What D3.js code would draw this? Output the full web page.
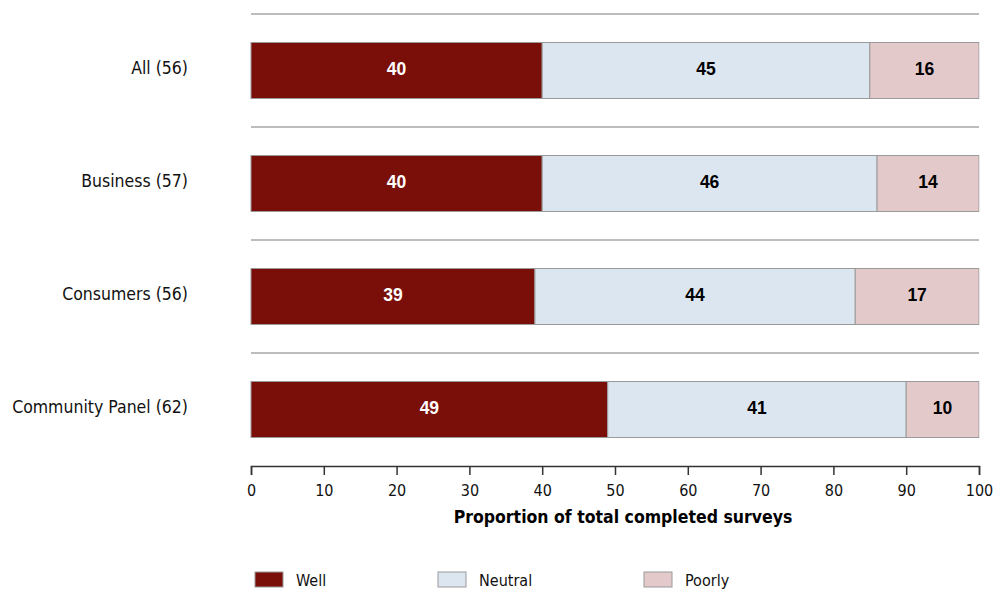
<!DOCTYPE html>
<html>
<head>
<meta charset="utf-8">
<script src="https://cdn.jsdelivr.net/npm/d3@7"></script>
<style>
  body { margin: 0; background: #fff; }
  svg { display: block; }
</style>
</head>
<body>
<svg id="chart" width="995" height="590"></svg>
<script>
// Survey groups (with respondent counts) and percentage shares per rating
const groups = ["All (56)", "Business (57)", "Consumers (56)", "Community Panel (62)"];
const well = [40, 40, 39, 49];
const neutral = [45, 46, 44, 41];
const poorly = [16, 14, 17, 10];
const ratings = ["Well", "Neutral", "Poorly"];
const xTicks = [0, 10, 20, 30, 40, 50, 60, 70, 80, 90, 100];

const colors = { Well: "#7a0f0a", Neutral: "#dce6f0", Poorly: "#e3c9ca" };
const labelColors = { Well: "#ffffff", Neutral: "#000000", Poorly: "#000000" };

const rows = groups.map((g, i) => ({ group: g, Well: well[i], Neutral: neutral[i], Poorly: poorly[i] }));
const stacked = d3.stack().keys(ratings)(rows);

const svg = d3.select("#chart");
const plotLeft = 251, plotRight = 979, plotTop = 14, plotBottom = 466;

const x = d3.scaleLinear().domain([0, 100]).range([plotLeft, plotRight]);
const y = d3.scaleBand().domain(groups).range([plotTop, plotBottom]).paddingInner(0).paddingOuter(0);
const barH = 56;

const catFont = "'DejaVu Sans Condensed', 'DejaVu Sans', sans-serif";

svg.append("defs").append("clipPath").attr("id", "plotClip")
  .append("rect").attr("x", plotLeft - 1).attr("y", 0).attr("width", plotRight - plotLeft + 1.5).attr("height", plotBottom);

// separators between groups
svg.append("g").selectAll("line").data(groups).join("line")
  .attr("x1", plotLeft).attr("x2", plotRight)
  .attr("y1", d => y(d)).attr("y2", d => y(d))
  .attr("stroke", "#bdbdbd").attr("stroke-width", 2);

// stacked bars
const layers = svg.append("g").attr("clip-path", "url(#plotClip)")
  .selectAll("g").data(stacked).join("g")
  .attr("fill", d => colors[d.key]);

layers.selectAll("rect").data(d => d.map(v => ({ v, key: d.key })))
  .join("rect")
  .attr("x", d => x(d.v[0]))
  .attr("y", d => y(d.v.data.group) + (y.bandwidth() - barH) / 2)
  .attr("width", d => x(Math.min(d.v[1], 100)) - x(d.v[0]))
  .attr("height", barH)
  .attr("stroke", "#9a9a9a").attr("stroke-width", 1);

// value labels
svg.append("g").selectAll("g").data(stacked).join("g")
  .selectAll("text").data(d => d.map(v => ({ v, key: d.key })))
  .join("text")
  .attr("x", d => (x(d.v[0]) + x(Math.min(d.v[1], 100))) / 2)
  .attr("y", d => y(d.v.data.group) + y.bandwidth() / 2)
  .attr("dy", "0.25em")
  .attr("text-anchor", "middle")
  .attr("font-family", "'Liberation Sans', Arial, sans-serif")
  .attr("font-weight", "bold")
  .attr("font-size", 17.5)
  .attr("fill", d => labelColors[d.key])
  .text(d => d.v.data[d.key]);

// category labels
svg.append("g").selectAll("text").data(groups).join("text")
  .attr("x", 188)
  .attr("y", d => y(d) + y.bandwidth() / 2)
  .attr("dy", "0.2em")
  .attr("text-anchor", "end")
  .attr("font-family", catFont)
  .attr("font-size", 17.5)
  .attr("fill", "#111")
  .text(d => d);

// x axis
const axis = svg.append("g").attr("transform", `translate(0,${plotBottom})`)
  .call(d3.axisBottom(x).tickValues(xTicks).tickSize(9).tickPadding(10));
axis.select(".domain").attr("stroke", "#333").attr("stroke-width", 1.5);
axis.selectAll(".tick line").attr("stroke", "#333").attr("stroke-width", 1.5);
axis.selectAll(".tick text")
  .attr("font-family", catFont).attr("font-size", 16).attr("fill", "#111");

svg.append("text")
  .attr("x", (plotLeft + plotRight) / 2 + 8).attr("y", 523)
  .attr("text-anchor", "middle")
  .attr("font-family", catFont)
  .attr("font-weight", "bold")
  .attr("font-size", 17.5)
  .attr("fill", "#000")
  .text("Proportion of total completed surveys");

// legend
const legendX = [255, 438, 644];
const legend = svg.append("g").selectAll("g").data(ratings).join("g")
  .attr("transform", (d, i) => `translate(${legendX[i]},572)`);
legend.append("rect")
  .attr("width", 28).attr("height", 15)
  .attr("fill", d => colors[d]).attr("stroke", "#9a9a9a");
legend.append("text")
  .attr("x", 41).attr("y", 8).attr("dy", "0.36em")
  .attr("font-family", catFont).attr("font-size", 16).attr("fill", "#111")
  .text(d => d);
</script>
</body>
</html>
